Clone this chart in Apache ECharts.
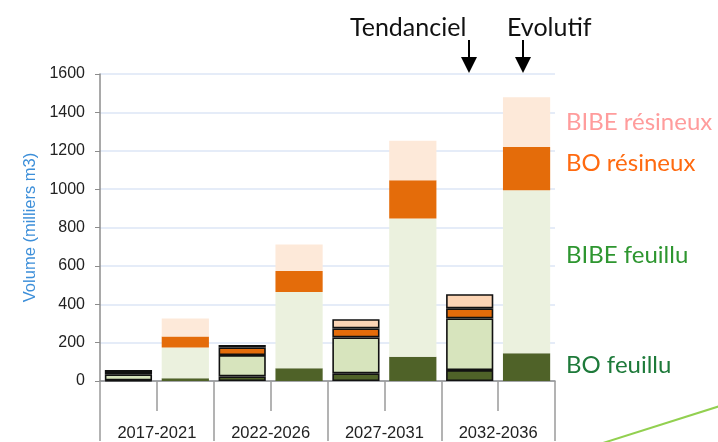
<!DOCTYPE html>
<html>
<head>
<meta charset="utf-8">
<script src="https://cdn.jsdelivr.net/npm/echarts@6/dist/echarts.min.js"></script>
<style>html,body{margin:0;padding:0;background:#fff}#c{width:718px;height:442px}</style>
</head>
<body>
<div id="c"></div>
<script>
// Data
const periods = ['2017-2021', '2022-2026', '2027-2031', '2032-2036'];
const scenarios = ['Tendanciel', 'Evolutif'];
const yTicks = [0, 200, 400, 600, 800, 1000, 1200, 1400, 1600];
const seriesNames = ['BO feuillu', 'BIBE feuillu', 'BO résineux', 'BIBE résineux'];
// Tendanciel values per period
const boFeuilluT = [3, 24, 40, 57];
const bibeFeuilluT = [32, 111, 187, 269];
const boResineuxT = [12, 40, 47, 53];
const bibeResineuxT = [10, 12, 48, 73];
// Evolutif values per period
const boFeuilluE = [14, 66, 126, 145];
const bibeFeuilluE = [161, 398, 721, 849];
const boResineuxE = [57, 109, 199, 225];
const bibeResineuxE = [94, 139, 206, 260];

const colorsT = ['#4F6228', '#D7E4BD', '#E46C0A', '#FCD5B5'];
const colorsE = ['#4F6228', '#EBF1DE', '#E46C0A', '#FDE9D9'];
const labelColors = ['#1E7A3A', '#2E9630', '#FF6A10', '#FF9C9C'];

const tData = [boFeuilluT, bibeFeuilluT, boResineuxT, bibeResineuxT];
const eData = [boFeuilluE, bibeFeuilluE, boResineuxE, bibeResineuxE];

const slots = [];
periods.forEach(p => scenarios.forEach(s => slots.push(p + ' ' + s)));

const series = seriesNames.map((name, k) => {
  const data = [];
  periods.forEach((p, i) => {
    data.push({value: tData[k][i], itemStyle: {color: colorsT[k], borderColor: '#111', borderWidth: 1.6}});
    data.push({value: eData[k][i], itemStyle: {color: colorsE[k], borderWidth: 0}});
  });
  return {
    name, type: 'bar', stack: 'all', xAxisIndex: 0, yAxisIndex: 0,
    barCategoryGap: '17%', data, silent: true
  };
});

const chart = echarts.init(document.getElementById('c'), null, {renderer: 'canvas'});
const gridTop = 74, gridBottom = 382;
const textFont = 'Lato';
chart.setOption({
  animation: false,
  grid: {left: 100, right: 163, top: gridTop, bottom: 442 - gridBottom},
  xAxis: [
    {
      type: 'category', data: slots, position: 'bottom',
      axisLine: {show: true, lineStyle: {color: '#8c8c8c', width: 1.5}},
      axisTick: {show: true, interval: 0, length: 30, lineStyle: {color: '#9a9a9a', width: 1.5}},
      axisLabel: {show: false, interval: 0}
    },
    {
      type: 'category', data: periods, position: 'bottom',
      axisLine: {show: false},
      axisTick: {show: true, interval: 0, length: 60, lineStyle: {color: '#9a9a9a', width: 1.5}},
      axisLabel: {show: true, interval: 0, margin: 44, fontFamily: 'Liberation Sans', fontSize: 16.5, color: '#222'}
    }
  ],
  yAxis: {
    type: 'value', min: 0, max: 1600, interval: 200,
    name: 'Volume (milliers m3)', nameLocation: 'middle', nameGap: 57,
    nameTextStyle: {color: '#3D8FD9', fontFamily: 'Liberation Sans', fontSize: 16.5},
    axisLine: {show: true, lineStyle: {color: '#8c8c8c', width: 1.5}},
    axisTick: {show: true, length: 5, lineStyle: {color: '#8c8c8c'}},
    axisLabel: {fontFamily: 'Liberation Sans', fontSize: 16, color: '#222', margin: 15,
      formatter: v => yTicks.includes(v) ? String(v) : ''},
    splitLine: {show: true, lineStyle: {color: '#DCE6F6', width: 1.5}}
  },
  series,
  graphic: [
    {type: 'text', x: 566, y: 122, style: {text: 'BIBE résineux', fill: labelColors[3], font: '24px ' + textFont, verticalAlign: 'middle'}},
    {type: 'text', x: 566, y: 163, style: {text: 'BO résineux', fill: labelColors[2], font: '24px ' + textFont, verticalAlign: 'middle'}},
    {type: 'text', x: 566, y: 255, style: {text: 'BIBE feuillu', fill: labelColors[1], font: '24px ' + textFont, verticalAlign: 'middle'}},
    {type: 'text', x: 566, y: 365, style: {text: 'BO feuillu', fill: labelColors[0], font: '24px ' + textFont, verticalAlign: 'middle'}},
    {type: 'text', x: 350, y: 28, style: {text: 'Tendanciel', fill: '#111', font: '25px ' + textFont, verticalAlign: 'middle'}},
    {type: 'text', x: 507, y: 28, style: {text: 'Evolutif', fill: '#111', font: '25px ' + textFont, verticalAlign: 'middle'}},
    {type: 'line', shape: {x1: 469, y1: 40, x2: 469, y2: 60}, style: {stroke: '#000', lineWidth: 2}},
    {type: 'polygon', shape: {points: [[461, 57], [477, 57], [469, 73]]}, style: {fill: '#000'}},
    {type: 'line', shape: {x1: 523, y1: 40, x2: 523, y2: 60}, style: {stroke: '#000', lineWidth: 2}},
    {type: 'polygon', shape: {points: [[515, 57], [531, 57], [523, 73]]}, style: {fill: '#000'}},
    {type: 'line', shape: {x1: 603, y1: 443, x2: 720, y2: 406}, style: {stroke: '#92D050', lineWidth: 2}}
  ]
});
</script>
</body>
</html>
